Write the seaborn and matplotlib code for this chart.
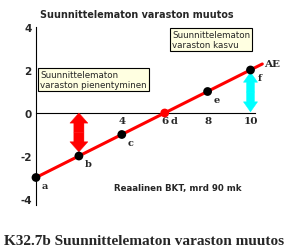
import numpy as np
import pandas as pd
import matplotlib
matplotlib.use('Agg')
import matplotlib.pyplot as plt
import seaborn as sns

# Points on the AE line (real GDP vs unplanned inventory change)
point_x = [0, 2, 4, 6, 8, 10]
point_y = [-3, -2, -1, 0, 1, 2]
point_labels = ['a', 'b', 'c', 'd', 'e', 'f']
point_colors = ['black', 'black', 'black', 'red', 'black', 'black']
line_x = [0, 10.55]
line_y = [-3, 2.28]
x_ticks = [2, 4, 6, 8, 10]
y_ticks = [-4, -2, 0, 2, 4]

# Double arrows: x position, start, end
arrow_down = (2, 0, -1.81)
arrow_up = (10, 1.9, 0.05)

W, H = 288, 253
sns.set_style('white')
fig = plt.figure(figsize=(W / 100, H / 100), dpi=100)
ax = fig.add_axes([0, 0, 1, 1])

# map pixel layout to data: origin at (36, 114) px, ~21.5 px per unit
ax.set_xlim(-36 / 21.45, (W - 36) / 21.45)
ax.set_ylim((114 - H) / 21.5, 114 / 21.5)

sns.lineplot(x=line_x, y=line_y, color='red', linewidth=2.2, ax=ax, zorder=3)


def double_arrow(x, y0, y1, color, w, hw, hl):
    mid = (y0 + y1) / 2
    for end in (y0, y1):
        ax.arrow(x, mid, 0, end - mid, width=w, head_width=hw, head_length=hl,
                 length_includes_head=True, fc=color, ec=color, lw=0.3, zorder=4)


double_arrow(*arrow_down, 'red', 0.47, 0.84, 0.47)
double_arrow(*arrow_up, '#00ffff', 0.37, 0.66, 0.47)

df = pd.DataFrame({'x': point_x, 'y': point_y, 'c': point_colors})
sns.scatterplot(data=df, x='x', y='y', hue='c', palette={'black': 'black', 'red': 'red'},
                s=40, edgecolor='none', legend=False, ax=ax, zorder=5)

serif = 'DejaVu Serif'
for px, py, lab in zip(point_x, point_y, point_labels):
    bbox = dict(fc='white', ec='none', pad=0.3) if lab == 'd' else None
    ax.annotate(lab, (px, py), xytext=(6.5, -5.5), textcoords='offset points',
                ha='center', va='center', fontsize=7, fontweight='bold',
                family=serif, bbox=bbox, zorder=6)
ax.annotate('AE', (line_x[1], line_y[1]), xytext=(1, 0), textcoords='offset points',
            ha='left', va='center', fontsize=7.5, fontweight='bold', family=serif)

# axes through the origin
for s in ['top', 'right']:
    ax.spines[s].set_visible(False)
ax.spines['left'].set_position(('data', 0))
ax.spines['bottom'].set_position(('data', 0))
ax.spines['left'].set_bounds(-4.3, 4)
ax.spines['bottom'].set_bounds(0, 10.2)
for s in ['left', 'bottom']:
    ax.spines[s].set_linewidth(0.8)
    ax.spines[s].set_color('black')
    ax.spines[s].set_zorder(2)

ax.set_xticks(x_ticks)
ax.set_yticks(y_ticks)
ax.set_xticklabels([str(v) for v in x_ticks], fontweight='bold', family=serif, fontsize=7.5)
ax.set_yticklabels([str(v) for v in y_ticks], fontweight='bold', fontsize=7.5)
ax.tick_params(axis='both', direction='in', length=3, width=0.8, color='black', pad=3)
ax.tick_params(axis='x', pad=2.5)
ax.set_xlabel('')
ax.set_ylabel('')

# text boxes
box = dict(boxstyle='square,pad=0.25', fc='#ffffe1', ec='black', lw=0.8)
ax.text(39 / 21.45 - 36 / 21.45 + 0.05, (114 - 80.5) / 21.5,
        'Suunnittelematon\nvaraston pienentyminen', fontsize=6.3,
        ha='left', va='center', bbox=box, linespacing=1.15, zorder=6)
ax.text((172 - 36) / 21.45, (114 - 40.5) / 21.5,
        'Suunnittelematon\nvaraston kasvu', fontsize=6.3,
        ha='left', va='center', bbox=box, linespacing=1.15, zorder=6)


def ftext(x, y, s, **kw):
    fig.text(x / W, 1 - y / H, s, ha='center', va='center', **kw)


ftext(136.5, 15, 'Suunnittelematon varaston muutos', fontsize=6.9, fontweight='bold')
ftext(177.5, 188, 'Reaalinen BKT, mrd 90 mk', fontsize=6.2, fontweight='bold')
ftext(144, 242, 'K32.7b Suunnittelematon varaston muutos', fontsize=11,
      fontweight='bold', family='Liberation Serif')

fig.savefig('out.png', dpi=100)
